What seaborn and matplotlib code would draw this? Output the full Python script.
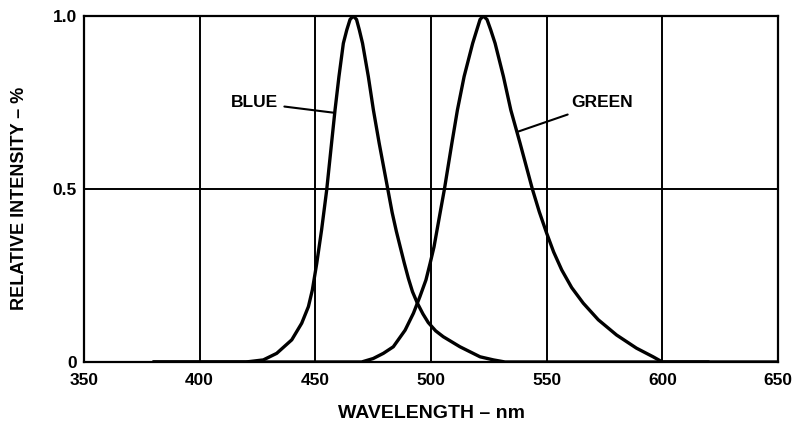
import numpy as np
import pandas as pd
import matplotlib
matplotlib.use("Agg")
import matplotlib.pyplot as plt
import seaborn as sns

# spectra (wavelength nm, relative intensity)
blue_nm = [380, 400, 420, 427.5, 433.3, 439.8, 444.1, 447, 448.7, 450.6, 452.7, 454.9,
           457, 458.5, 460.2, 462.1, 463.6, 465, 466.4, 467.8, 469, 470.4, 472.9, 475.1,
           477.6, 481.3, 483.2, 485, 486.6, 488.4, 490.2, 492, 494.1, 496.5, 498.8,
           502, 505.3, 512.5, 521.2, 527, 532, 550, 600, 620]
blue_int = [0, 0, 0, 0.006, 0.025, 0.064, 0.112, 0.16, 0.208, 0.285, 0.382, 0.497,
            0.632, 0.728, 0.825, 0.921, 0.96, 0.99, 1.0, 0.99, 0.96, 0.921, 0.825, 0.728,
            0.632, 0.5, 0.432, 0.378, 0.335, 0.287, 0.242, 0.203, 0.17, 0.139, 0.114,
            0.09, 0.073, 0.044, 0.015, 0.006, 0, 0, 0, 0]

green_nm = [380, 420, 460, 470, 475, 479.4, 483.7, 488.8, 492.4, 495.2, 497.8, 499.6,
            501.3, 503.9, 505.8, 509, 511.4, 514.3, 518, 519.8, 521.2, 522.6, 524.2,
            525.8, 527.7, 531.3, 534.5, 538.5, 543.8, 546.8, 550, 553, 556.5, 560.8,
            565.8, 572.3, 580.2, 588.8, 596, 600, 620, 650]
green_int = [0, 0, 0, 0, 0.01, 0.025, 0.044, 0.092, 0.141, 0.189, 0.237, 0.285,
             0.333, 0.43, 0.5, 0.632, 0.728, 0.825, 0.921, 0.96, 0.99, 1.0, 0.99,
             0.96, 0.921, 0.825, 0.728, 0.632, 0.5, 0.434, 0.372, 0.318, 0.266, 0.215,
             0.17, 0.122, 0.078, 0.04, 0.015, 0, 0, 0]

x_ticks = [350, 400, 450, 500, 550, 600, 650]
y_ticks = [0, 0.5, 1.0]
y_tick_labels = ["0", "0.5", "1.0"]

sns.set_style("white")
plt.rcParams['font.family'] = ['Liberation Sans', 'DejaVu Sans']
plt.rcParams['font.weight'] = 'bold'
for key in ['text.color', 'axes.labelcolor', 'xtick.color', 'ytick.color']:
    plt.rcParams[key] = 'black'

fig = plt.figure(figsize=(7.94, 4.29), dpi=100)
ax = fig.add_axes([0.1058, 0.1562, 0.8741, 0.8065])

# grid lines first so curves sit on top
for xv in x_ticks[1:-1]:
    ax.axvline(xv, color='black', lw=1.4, zorder=1)
ax.axhline(0.5, color='black', lw=1.4, zorder=1)

sns.lineplot(x=blue_nm, y=blue_int, color='black', lw=2.4, ax=ax, zorder=3)
sns.lineplot(x=green_nm, y=green_int, color='black', lw=2.4, ax=ax, zorder=3)

ax.set_xlim(350, 650)
ax.set_ylim(0, 1.0)
ax.set_xticks(x_ticks)
ax.set_yticks(y_ticks)
ax.set_yticklabels(y_tick_labels)
ax.tick_params(length=0, labelsize=12.5)
ax.tick_params(axis='x', pad=8)
ax.tick_params(axis='y', pad=5)
for lbl in ax.get_xticklabels() + ax.get_yticklabels():
    lbl.set_fontweight('bold')

for s in ax.spines.values():
    s.set_color('black')
    s.set_linewidth(1.6)

ax.set_xlabel('WAVELENGTH – nm', fontsize=14, fontweight='bold')
ax.set_ylabel('RELATIVE INTENSITY – %', fontsize=13, fontweight='bold')
ax.xaxis.set_label_coords(0.5, -0.124)
ax.yaxis.set_label_coords(-0.081, 0.474)

ax.annotate('BLUE', xy=(458.5, 0.72), xytext=(434, 0.749), ha='right', va='center',
            fontsize=12.5, fontweight='bold',
            arrowprops=dict(arrowstyle='-', lw=1.5, color='black', shrinkA=2, shrinkB=0))
ax.annotate('GREEN', xy=(537.7, 0.666), xytext=(560.4, 0.749), ha='left', va='center',
            fontsize=12.5, fontweight='bold',
            arrowprops=dict(arrowstyle='-', lw=1.5, color='black', shrinkA=2, shrinkB=0))

plt.savefig('out.png', dpi=100)
